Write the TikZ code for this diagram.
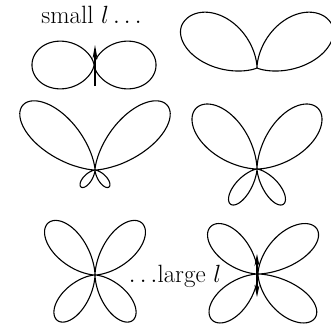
\documentclass[tikz,border=0pt]{standalone}
\usetikzlibrary{arrows.meta}
\begin{document}
\begin{tikzpicture}[x=1pt,y=-1pt,
  declare function={
    cl(\s,\k,\p)=(max(cos(\s*\k),0)+0.000001)^\p;
    lobe(\s,\ka,\pa,\kb,\pb)=(\s>0)?cl(\s,\ka,\pa):cl(\s,\kb,\pb);
    rtwo(\t)=86.6*lobe(asin(sin(\t))-31,1.525,1.35,1.607,1.8);
    pet(\t,\q,\p)=(abs(sin(180*((asin(abs(sin(\t)))+0.0001)/90)^\q))+0.000001)^\p;
    rr(\t,\La,\qa,\pa,\Lb,\qb,\pb)=(sin(\t)>0)?(\La*pet(\t,\qa,\pa)):(\Lb*pet(\t,\qb,\pb));
  },
  curve/.style={line width=1.1pt,line join=round},
  lbl/.style={inner sep=0pt,anchor=base,font=\fontsize{25}{30}\selectfont},
  dip/.style={line width=1.1pt,-{Stealth[length=14pt,width=5pt]}},
  dipb/.style={line width=1.1pt,{Stealth[length=12pt,width=5pt]}-{Stealth[length=12pt,width=5pt]}}]
\useasboundingbox (0,0) rectangle (331,333);
% panel 1
\coordinate (c1) at (94,65);
\begin{scope}[shift={(c1)},yscale=-1]
\draw[curve] plot[domain=0:360,samples=361] ({62*cos(\x)^2*cos(\x)},{62*cos(\x)^2*sin(\x)});
\end{scope}
\coordinate (a1s) at (95,86);
\coordinate (a1e) at (95,45);
\draw[dip] (a1s) -- (a1e);
% panel 2
\coordinate (c2) at (257,68);
\begin{scope}[shift={(c2)},yscale=-1]
\draw[curve] plot[domain=0:360,samples=721] ({rtwo(\x)*cos(\x)},{rtwo(\x)*sin(\x)});
\end{scope}
% panel 3
\coordinate (c3) at (95,170);
\begin{scope}[shift={(c3)},yscale=-1]
\draw[curve] plot[domain=0:360,samples=361]
  ({rr(\x,97,0.91,2,22,1.2,2)*cos(\x)},{rr(\x,97,0.91,2,22,1.2,2)*sin(\x)});
\end{scope}
% panel 4
\coordinate (c4) at (257,169);
\begin{scope}[shift={(c4)},yscale=-1]
\draw[curve] plot[domain=0:360,samples=361]
  ({rr(\x,86,1,1.4,44,1.31,2)*cos(\x)},{rr(\x,86,1,1.4,44,1.31,2)*sin(\x)});
\end{scope}
% panel 5
\coordinate (c5) at (95,275);
\begin{scope}[shift={(c5)},yscale=-1]
\draw[curve] plot[domain=0:360,samples=361]
  ({rr(\x,70,1.1,1.5,59,1.18,1.5)*cos(\x)},{rr(\x,70,1.1,1.5,59,1.18,1.5)*sin(\x)});
\end{scope}
% panel 6
\coordinate (c6) at (258,274);
\begin{scope}[shift={(c6)},yscale=-1]
\draw[curve] plot[domain=0:360,samples=361]
  ({rr(\x,67,1,1.5,65,1,1.5)*cos(\x)*((cos(\x)>0)?1.2:1)},{rr(\x,67,1,1.5,65,1,1.5)*sin(\x)});
\end{scope}
\coordinate (a6s) at (257,297);
\coordinate (a6e) at (257,254);
\draw[dipb] (a6s) -- (a6e);
% labels
\node[lbl] (small) at (91.5,23) {small $l\ldots$};
\node[lbl] (large) at (175,282) {$\ldots$large $l$};
\end{tikzpicture}
\end{document}
